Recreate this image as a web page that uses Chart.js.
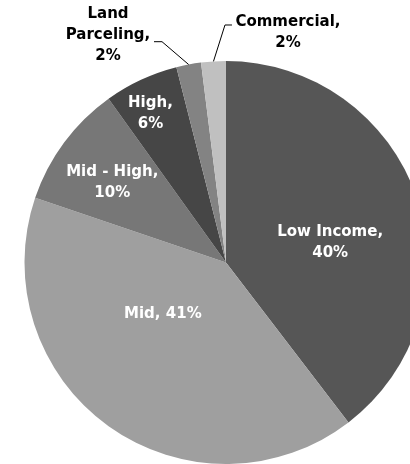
<!DOCTYPE html>
<html>
<head>
<meta charset="utf-8">
<script src="https://cdn.jsdelivr.net/npm/chart.js@4/dist/chart.umd.min.js"></script>
<style>
  html, body { margin: 0; padding: 0; overflow: hidden; background: #fff; }
  #wrap { width: 452px; height: 464px; }
</style>
</head>
<body>
<div id="wrap"><canvas id="pie" width="452" height="464"></canvas></div>
<script>
// housing mix by category, percent
const categories = ['Low Income', 'Mid', 'Mid - High', 'High', 'Land Parceling', 'Commercial'];
const shares = [40, 41, 10, 6, 2, 2];
const sliceColors = ['#565656', '#9f9f9f', '#777777', '#464646', '#838383', '#c0c0c0'];

// per-slice label placement: inside labels sit on the mid-angle ray (rf * radius),
// outside ones hang off the rim with a bent leader line
const labelSpec = [
  { wrap: ['Low Income,', '{v}%'], rf: 0.53, dx: 3, dy: 14, color: '#fff' },
  { wrap: ['Mid, {v}%'], rf: 0.41, dx: -15, dy: -16, color: '#fff' },
  { wrap: ['Mid - High,', '{v}%'], rf: 0.69, dx: -2, dy: 3, color: '#fff' },
  { wrap: ['High,', '{v}%'], rf: 0.83, dx: -5, dy: 3, color: '#fff' },
  { wrap: ['Land', 'Parceling,', '{v}%'], outside: true, bend: [-26.6, -22.8], tail: -8, tx: -80.6, ty: -29, color: '#000' },
  { wrap: ['Commercial,', '{v}%'], outside: true, bend: [11.5, -36.4], tail: 7, tx: 74.5, ty: -28.4, color: '#000' }
];

const sliceLabels = {
  id: 'sliceLabels',
  afterDatasetsDraw(chart) {
    const ctx = chart.ctx;
    const arcs = chart.getDatasetMeta(0).data;
    const lineH = 21;
    ctx.save();
    ctx.font = 'bold 15px "DejaVu Sans", Verdana, sans-serif';
    ctx.textAlign = 'center';
    ctx.textBaseline = 'middle';
    arcs.forEach((arc, i) => {
      const spec = labelSpec[i];
      const p = arc.getProps(['x', 'y', 'startAngle', 'endAngle', 'outerRadius'], true);
      const mid = (p.startAngle + p.endAngle) / 2;
      const lines = spec.wrap.map(s => s.replace('{v}', shares[i]));
      let cx, cy;
      if (spec.outside) {
        const ex = p.x + Math.cos(mid) * p.outerRadius;
        const ey = p.y + Math.sin(mid) * p.outerRadius;
        const bx = ex + spec.bend[0], by = ey + spec.bend[1];
        ctx.strokeStyle = '#000';
        ctx.lineWidth = 1;
        ctx.beginPath();
        ctx.moveTo(ex, ey);
        ctx.lineTo(bx, by);
        ctx.lineTo(bx + spec.tail, by);
        ctx.stroke();
        cx = ex + spec.tx;
        cy = ey + spec.ty;
      } else {
        const r = p.outerRadius * spec.rf;
        cx = p.x + Math.cos(mid) * r + spec.dx;
        cy = p.y + Math.sin(mid) * r + spec.dy;
      }
      ctx.fillStyle = spec.color;
      const top = cy - (lines.length - 1) * lineH / 2;
      lines.forEach((t, k) => ctx.fillText(t, cx, top + k * lineH));
    });
    ctx.restore();
  }
};

new Chart(document.getElementById('pie'), {
  type: 'pie',
  data: {
    labels: categories,
    datasets: [{
      data: shares,
      backgroundColor: sliceColors,
      borderWidth: 0
    }]
  },
  options: {
    responsive: false,
    animation: false,
    layout: { padding: { top: 61, bottom: 0, left: 24, right: 24 } },
    plugins: {
      legend: { display: false },
      tooltip: { enabled: false }
    }
  },
  plugins: [sliceLabels]
});
</script>
</body>
</html>
